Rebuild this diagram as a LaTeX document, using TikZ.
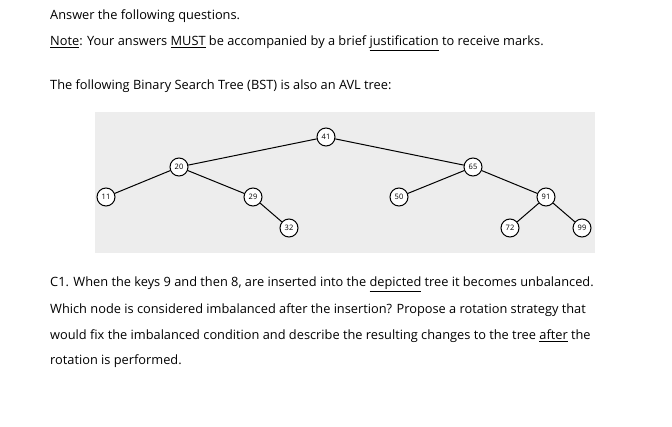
\documentclass[tikz,border=0pt]{standalone}
\usepackage{fontspec}
\setmainfont{Open Sans}
\begin{document}
\begin{tikzpicture}[x=1pt,y=-1pt,
  txt/.style={anchor=base west,inner sep=0pt,font=\fontsize{12.8}{14}\selectfont,text=black},
  bst/.style={circle,draw,line width=1pt,minimum size=18pt,inner sep=0pt,font=\fontsize{7.5}{8}\selectfont,fill=white}]
\useasboundingbox (0,0) rectangle (672,427);
\fill[white] (0,0) rectangle (672,427);
\fill[black!7] (95,112) rectangle (595,253);
\node[txt] (t1) at (50,20) {Answer the following questions.};
\node[txt] (t2) at (50,46) {\underline{Note}: Your answers \underline{MUST} be accompanied by a brief \underline{justification} to receive marks.};
\node[txt] (t3) at (50,90) {The following Binary Search Tree (BST) is also an AVL tree:};
\node[bst] (n41) at (326,137) {41};
\node[bst] (n20) at (179,167) {20};
\node[bst] (n65) at (473,167) {65};
\node[bst] (n11) at (106,197) {11};
\node[bst] (n29) at (253,197) {29};
\node[bst] (n50) at (399,197) {50};
\node[bst] (n91) at (546,197) {91};
\node[bst] (n32) at (289,228) {32};
\node[bst] (n72) at (510,228) {72};
\node[bst] (n99) at (582,228) {99};
\begin{scope}[line width=1pt]
\draw (n41)--(n20); \draw (n41)--(n65);
\draw (n20)--(n11); \draw (n20)--(n29); \draw (n29)--(n32);
\draw (n65)--(n50); \draw (n65)--(n91); \draw (n91)--(n72); \draw (n91)--(n99);
\end{scope}
\node[txt] (c1) at (50,287) {C1. When the keys 9 and then 8, are inserted into the \underline{depicted} tree it becomes unbalanced.};
\node[txt] (c2) at (50,314) {Which node is considered imbalanced after the insertion? Propose a rotation strategy that};
\node[txt] (c3) at (50,340) {would fix the imbalanced condition and describe the resulting changes to the tree \underline{after} the};
\node[txt] (c4) at (50,365) {rotation is performed.};
\end{tikzpicture}
\end{document}
